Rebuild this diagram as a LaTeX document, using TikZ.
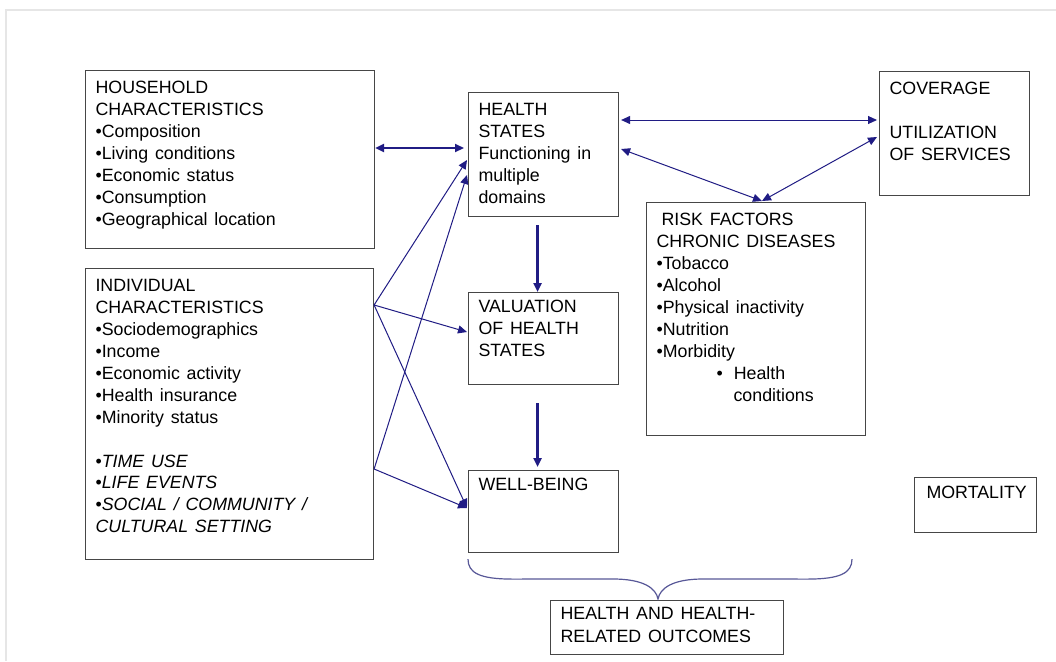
\documentclass[tikz,border=0pt]{standalone}
\usepackage{fontspec}
\setmainfont{Liberation Sans}
\usepackage{tikz}
\usetikzlibrary{arrows.meta,calc}
\definecolor{arrowblue}{RGB}{32,28,132}
\definecolor{braceblue}{RGB}{88,88,152}
\definecolor{framegray}{RGB}{230,230,230}
\definecolor{boxgray}{RGB}{70,70,70}
\newcommand{\boxbody}[3]{\parbox[t][#2][t]{#1}{\spaceskip=0.38em\relax\hyphenpenalty=10000\relax #3}}
\tikzset{
>={Triangle[length=9pt,width=8pt]},
box/.style={draw=boxgray, line width=1.1pt, anchor=north west, inner xsep=10pt, inner ysep=11pt,
  font=\fontsize{17.8}{21.9}\selectfont},
link/.style={draw=arrowblue, line width=1pt, ->},
biglink/.style={draw=arrowblue, line width=2.2pt, ->},
}
\tikzstyle{brace} = [draw=braceblue, line width=1.2pt]
\begin{document}
\begin{tikzpicture}[x=1pt, y=-1pt]
\useasboundingbox (0,0) rectangle (1056,661);
\fill[white] (0,0) rectangle (1056,661);
\draw[framegray, line width=2.5pt] (6,661) -- (6,10) -- (1056,10);

\node[box] (hh) at (85,70) {\boxbody{269pt}{156pt}{HOUSEHOLD\\CHARACTERISTICS\\•Composition\\•Living conditions\\•Economic status\\•Consumption\\•Geographical location}};
\node[box] (ind) at (85,268) {\boxbody{268pt}{269pt}{INDIVIDUAL\\CHARACTERISTICS\\•Sociodemographics\\•Income\\•Economic activity\\•Health insurance\\•Minority status\\[21.9pt]•\textit{TIME USE}\\•\textit{LIFE EVENTS}\\•\textit{SOCIAL / COMMUNITY /}\\\textit{CULTURAL SETTING}}};
\node[box] (hs) at (468,92) {\boxbody{130pt}{102pt}{HEALTH\\STATES\\Functioning in\\multiple\\domains}};
\node[box, inner ysep=8pt] (val) at (468,292) {\boxbody{130pt}{76pt}{VALUATION\\OF HEALTH\\STATES}};
\node[box, inner ysep=8pt] (wb) at (468,470) {\boxbody{130pt}{66pt}{WELL-BEING}};
\node[box] (rf) at (646,202) {\boxbody{199pt}{211pt}{\hspace*{5pt}RISK FACTORS\\CHRONIC DISEASES\\•Tobacco\\•Alcohol\\•Physical inactivity\\•Nutrition\\•Morbidity\\\hspace*{60pt}•\hspace*{11pt}Health\\\hspace*{77pt}conditions}};
\node[box] (cov) at (879,71) {\boxbody{130pt}{102pt}{COVERAGE\\[21.9pt]UTILIZATION\\OF SERVICES}};
\node[box, inner ysep=9pt] (mort) at (914,477) {\boxbody{102pt}{37pt}{\mbox{\hspace*{2pt}MORTALITY}}};
\node[box, inner ysep=7pt] (out) at (550,600) {\boxbody{213pt}{40pt}{HEALTH AND HEALTH-\\[1pt]RELATED OUTCOMES}};

\coordinate (i1) at ($(ind.north east)+(0,37)$);
\coordinate (i2) at ($(ind.north east)+(0,201)$);
\coordinate (apex) at ($(rf.north west)+(116,-1)$);
\coordinate (bl) at ($(wb.south west)+(0,6)$);
\coordinate (br) at ($(wb.south west)+(384,6)$);
\coordinate (tip) at ($(out.north west)+(108,-1)$);

\draw[biglink,<->] ($(hh.north east)+(0,78)$) -- ($(hs.north west)+(-4,56)$);
\draw[biglink] ([xshift=-6pt,yshift=-8pt]hs.south) -- ([xshift=-6pt]val.north);
\draw[biglink] ([xshift=-6pt,yshift=-18pt]val.south) -- ([xshift=-6pt,yshift=3pt]wb.north);

\draw[link,<->] ($(hs.north east)+(2,28)$) -- ($(cov.north west)+(-2,49)$);
\draw[link,<->] ($(hs.north east)+(2,57)$) -- (apex);
\draw[link,<->] (apex) -- ($(cov.north west)+(-2,66)$);

\draw[link] (i1) -- ($(hs.north west)+(-1,68)$);
\draw[link] (i1) -- ($(val.north west)+(-1,40)$);
\draw[link] (i1) -- ($(wb.north west)+(-1,38)$);
\draw[link] (i2) -- ($(hs.north west)+(-1,83)$);
\draw[link] (i2) -- ($(wb.north west)+(-1,38)$);

\draw[brace] (bl) .. controls ($(bl)+(0,14)$) and ($(bl)+(12,20)$) .. ($(bl)+(45,20)$)
  -- ($(tip)+(-45,-20)$) .. controls ($(tip)+(-15,-20)$) and ($(tip)+(-2,-11)$) .. (tip)
  .. controls ($(tip)+(2,-11)$) and ($(tip)+(15,-20)$) .. ($(tip)+(45,-20)$)
  -- ($(br)+(-45,20)$) .. controls ($(br)+(-12,20)$) and ($(br)+(0,14)$) .. (br);
\end{tikzpicture}
\end{document}
